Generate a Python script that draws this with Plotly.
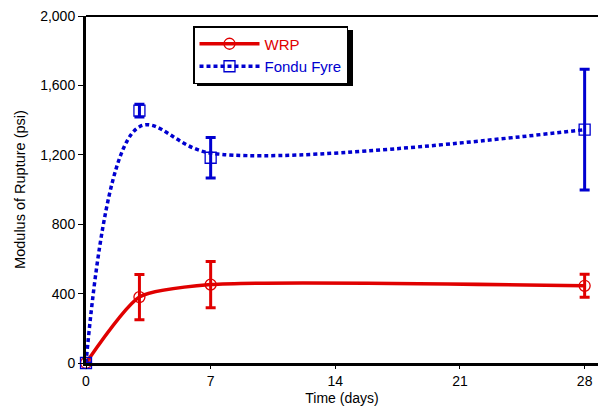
import plotly.graph_objects as go

days = [0, 3, 7, 28]
wrp_mean = [0, 380, 452, 445]
wrp_err = [0, 130, 133, 66]
fondu_mean = [0, 1455, 1183, 1345]
fondu_err = [0, 37, 117, 348]
fondu_curve = [0, 1362, 1210, 1345]

x_ticks = [0, 7, 14, 21, 28]
y_ticks = [0, 400, 800, 1200, 1600, 2000]
y_tick_text = ["0", "400", "800", "1,200", "1,600", "2,000"]

RED = "#e00000"
BLUE = "#0000d0"
FONT = "Arial, Liberation Sans, sans-serif"

PL, PT, PW, PH = 86, 16, 512, 347  # plot area in page pixels
FIG_W, FIG_H = 598, 413


def px(xp):
    return (xp - PL) / PW


def py(yp):
    return 1 - (yp - PT) / PH


fig = go.Figure()

fig.add_trace(go.Scatter(x=days, y=wrp_mean, mode="lines",
                         line=dict(color=RED, width=3.5, shape="spline", smoothing=0.6),
                         showlegend=False, hoverinfo="skip", cliponaxis=False))
fig.add_trace(go.Scatter(x=days, y=fondu_curve, mode="lines",
                         line=dict(color=BLUE, width=3.5, dash="4px,3px", shape="spline", smoothing=1.0),
                         showlegend=False, hoverinfo="skip", cliponaxis=False))
fig.add_trace(go.Scatter(x=days, y=wrp_mean, mode="markers",
                         marker=dict(symbol="circle-open", size=11, color=RED, line=dict(width=1.3)),
                         error_y=dict(type="data", array=wrp_err, color=RED, thickness=3, width=5),
                         showlegend=False, cliponaxis=False))
fig.add_trace(go.Scatter(x=days, y=fondu_mean, mode="markers",
                         marker=dict(symbol="square-open", size=11, color=BLUE, line=dict(width=1.3)),
                         error_y=dict(type="data", array=fondu_err, color=BLUE, thickness=3, width=5),
                         showlegend=False, cliponaxis=False))
fig.add_trace(go.Scatter(x=[None], y=[None], mode="lines+markers",
                         name=f"<span style='color:{RED}'>WRP</span>",
                         line=dict(color=RED, width=3.5),
                         marker=dict(symbol="circle-open", size=11, color=RED, line=dict(width=1.3))))
fig.add_trace(go.Scatter(x=[None], y=[None], mode="lines+markers",
                         name=f"<span style='color:{BLUE}'>Fondu Fyre</span>",
                         line=dict(color=BLUE, width=3.5, dash="4px,3px"),
                         marker=dict(symbol="square-open", size=11, color=BLUE, line=dict(width=1.3))))

# legend shadow
fig.add_shape(type="rect", xref="paper", yref="paper",
              x0=px(197), x1=px(353), y0=py(86), y1=py(30),
              fillcolor="black", line=dict(width=0), layer="below")
# top frame line
fig.add_shape(type="line", xref="paper", yref="paper", x0=0, x1=1, y0=1, y1=1,
              line=dict(color="black", width=2))

fig.update_layout(
    width=FIG_W, height=FIG_H,
    margin=dict(l=PL, r=FIG_W - PL - PW, t=PT, b=FIG_H - PT - PH),
    paper_bgcolor="white", plot_bgcolor="white",
    font=dict(family=FONT, color="black", size=14),
    legend=dict(x=px(193), y=py(26), xanchor="left", yanchor="top",
                bgcolor="white", bordercolor="black", borderwidth=1.5,
                font=dict(size=15, family=FONT),
                tracegroupgap=0, itemwidth=60),
    xaxis=dict(range=[0, 28.75], tickvals=x_ticks, ticktext=[str(v) for v in x_ticks],
               showgrid=False, zeroline=False, showline=True, linecolor="black", linewidth=3,
               ticks="outside", ticklen=3, tickwidth=1, tickcolor="black",
               ticklabeloverflow="allow",
               title=dict(text="Time (days)", font=dict(size=14), standoff=6),
               tickfont=dict(size=14)),
    yaxis=dict(range=[0, 2000], tickvals=y_ticks, ticktext=y_tick_text,
               showgrid=False, zeroline=False, showline=True, linecolor="black", linewidth=3,
               ticks="outside", ticklen=5, tickwidth=1, tickcolor="black",
               ticklabeloverflow="allow",
               title=dict(text="Modulus of Rupture (psi)", font=dict(size=14.5), standoff=12),
               tickfont=dict(size=14)),
)

fig.write_html("out.html", config={"displayModeBar": False},
               post_script="document.body.style.margin='0';")
